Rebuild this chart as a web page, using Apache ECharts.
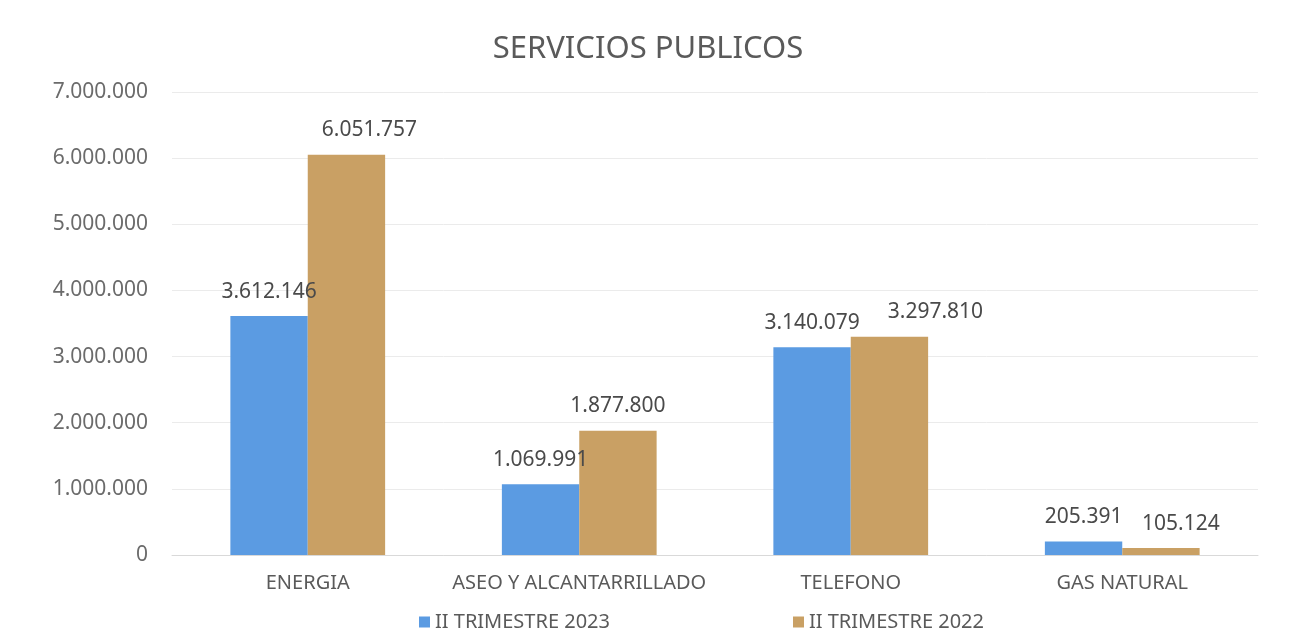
<!DOCTYPE html>
<html>
<head>
<meta charset="utf-8">
<script src="https://cdn.jsdelivr.net/npm/echarts@6/dist/echarts.min.js"></script>
<style>
  html, body { margin: 0; padding: 0; background: #ffffff; }
  #chart { width: 1296px; height: 640px; }
</style>
</head>
<body>
<div id="chart"></div>
<script>
const categories = ['ENERGIA', 'ASEO Y ALCANTARRILLADO', 'TELEFONO', 'GAS NATURAL'];
const trimestre2023 = [3612146, 1069991, 3140079, 205391];
const trimestre2022 = [6051757, 1877800, 3297810, 105124];
const seriesNames = ['II TRIMESTRE 2023', 'II TRIMESTRE 2022'];

// miles con punto
const fmt = v => String(Math.round(v)).replace(/\B(?=(\d{3})+(?!\d))/g, '.');

const chart = echarts.init(document.getElementById('chart'));
const font = 'Noto Sans';

// algunas etiquetas de 2022 estan corridas a la derecha en el original
const shift2022 = [23, 0, 46, 20];

const labelStyle = {
  show: true, position: 'top', distance: 14,
  fontFamily: font, fontSize: 21, color: '#4a4a4a',
  formatter: p => fmt(p.value)
};

const option = {
  backgroundColor: '#ffffff',
  title: {
    text: 'SERVICIOS PUBLICOS',
    left: 'center',
    top: 29,
    textStyle: { fontFamily: font, fontSize: 31, fontWeight: 'normal', color: '#5a5a5a' }
  },
  legend: {
    left: 414,
    top: 607,
    itemWidth: 11,
    itemHeight: 11,
    itemGap: 183,
    icon: 'rect',
    textStyle: { fontFamily: font, fontSize: 20, color: '#5a5a5a' },
    data: seriesNames
  },
  grid: { left: 172, right: 38, top: 92, bottom: 85 },
  xAxis: {
    type: 'category',
    data: categories,
    axisLine: { lineStyle: { color: '#d9d9d9' } },
    axisTick: { show: false },
    axisLabel: { fontFamily: font, fontSize: 20, color: '#5a5a5a', margin: 18, interval: 0 }
  },
  yAxis: {
    type: 'value',
    min: 0,
    max: 7000000,
    interval: 1000000,
    axisLine: { show: false },
    axisTick: { show: false },
    splitLine: { lineStyle: { color: '#ebebeb' } },
    axisLabel: {
      fontFamily: font, fontSize: 21, color: '#6b6b6b', margin: 24,
      formatter: v => fmt(v)
    }
  },
  series: [
    {
      name: seriesNames[0],
      type: 'bar',
      data: trimestre2023,
      barGap: '0%',
      barCategoryGap: '43%',
      itemStyle: { color: '#5b9be2' },
      label: labelStyle
    },
    {
      name: seriesNames[1],
      type: 'bar',
      data: trimestre2022.map((v, i) => ({
        value: v,
        label: { offset: [shift2022[i], 0] }
      })),
      itemStyle: { color: '#c9a064' },
      label: labelStyle
    }
  ]
};

chart.setOption(option);
</script>
</body>
</html>
